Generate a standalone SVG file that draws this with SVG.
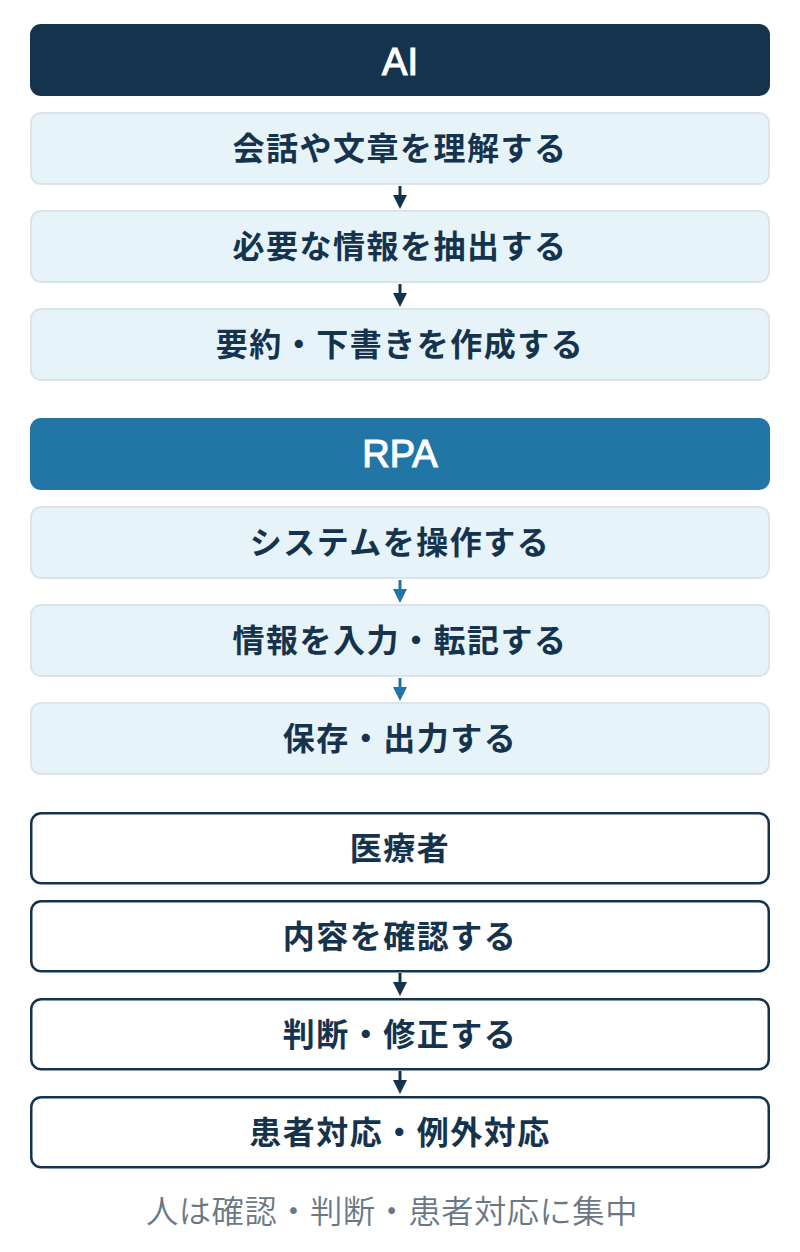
<svg xmlns="http://www.w3.org/2000/svg" width="800" height="1252" viewBox="0 0 800 1252">
<defs>
<style>
.hdr{font-family:"Liberation Sans",Arial,sans-serif;font-weight:400;font-size:38px;fill:#ffffff;stroke:#ffffff;stroke-width:1.2px;text-anchor:middle}
.lbl{font-family:"Noto Sans CJK JP","Noto Sans",sans-serif;font-weight:700;font-size:32px;fill:#15334d;text-anchor:middle;letter-spacing:1.5px}
.cap{font-family:"Noto Sans CJK JP","Noto Sans",sans-serif;font-weight:350;font-size:32.3px;fill:#6b7785;letter-spacing:0.5px}
.soft{fill:#e6f4fa;stroke:#dce3ea;stroke-width:2}
.human{fill:#ffffff;stroke:#15334d;stroke-width:2.5}
.dark{fill:#15334d;stroke:#15334d}
.blue{fill:#2276a5;stroke:#2276a5}
</style>
</defs>
<rect width="800" height="1252" fill="#ffffff"/>
<g id="ai-header"><rect x="30" y="24" width="740" height="72" rx="11" fill="#15334d"/><text class="hdr" x="400" y="75">AI</text></g>
<g id="ai-1"><rect class="soft" x="31" y="113" width="738" height="71" rx="10"/><text class="lbl" x="400" y="160">会話や文章を理解する</text></g>
<g id="ai-2"><rect class="soft" x="31" y="211" width="738" height="71" rx="10"/><text class="lbl" x="400" y="258">必要な情報を抽出する</text></g>
<g id="ai-3"><rect class="soft" x="31" y="309" width="738" height="71" rx="10"/><text class="lbl" x="400" y="356">要約・下書きを作成する</text></g>
<g id="rpa-header"><rect x="30" y="418" width="740" height="72" rx="11" fill="#2276a5"/><text class="hdr" x="400" y="467">RPA</text></g>
<g id="rpa-1"><rect class="soft" x="31" y="507" width="738" height="71" rx="10"/><text class="lbl" x="400" y="554">システムを操作する</text></g>
<g id="rpa-2"><rect class="soft" x="31" y="605" width="738" height="71" rx="10"/><text class="lbl" x="400" y="652">情報を入力・転記する</text></g>
<g id="rpa-3"><rect class="soft" x="31" y="703" width="738" height="71" rx="10"/><text class="lbl" x="400" y="750">保存・出力する</text></g>
<g id="human-header"><rect class="human" x="31.25" y="813.25" width="737.5" height="70" rx="10"/><text class="lbl" x="400" y="860">医療者</text></g>
<g id="human-1"><rect class="human" x="31.25" y="901.25" width="737.5" height="70" rx="10"/><text class="lbl" x="400" y="948">内容を確認する</text></g>
<g id="human-2"><rect class="human" x="31.25" y="999.25" width="737.5" height="70" rx="10"/><text class="lbl" x="400" y="1046">判断・修正する</text></g>
<g id="human-3"><rect class="human" x="31.25" y="1097.25" width="737.5" height="70" rx="10"/><text class="lbl" x="400" y="1144">患者対応・例外対応</text></g>
<g id="connectors">
<g class="dark"><line x1="400" y1="186" x2="400" y2="197" stroke-width="3"/><polygon points="393,195 407,195 400,209" stroke="none"/></g>
<g class="dark"><line x1="400" y1="284" x2="400" y2="295" stroke-width="3"/><polygon points="393,293 407,293 400,307" stroke="none"/></g>
<g class="blue"><line x1="400" y1="580" x2="400" y2="591" stroke-width="3"/><polygon points="393,589 407,589 400,603" stroke="none"/></g>
<g class="blue"><line x1="400" y1="678" x2="400" y2="689" stroke-width="3"/><polygon points="393,687 407,687 400,701" stroke="none"/></g>
<g class="dark"><line x1="400" y1="973" x2="400" y2="984" stroke-width="3"/><polygon points="393,982 407,982 400,996" stroke="none"/></g>
<g class="dark"><line x1="400" y1="1071" x2="400" y2="1082" stroke-width="3"/><polygon points="393,1080 407,1080 400,1094" stroke="none"/></g>
</g>
<text class="cap" x="146" y="1223">人は確認・判断・患者対応に集中</text>
</svg>
